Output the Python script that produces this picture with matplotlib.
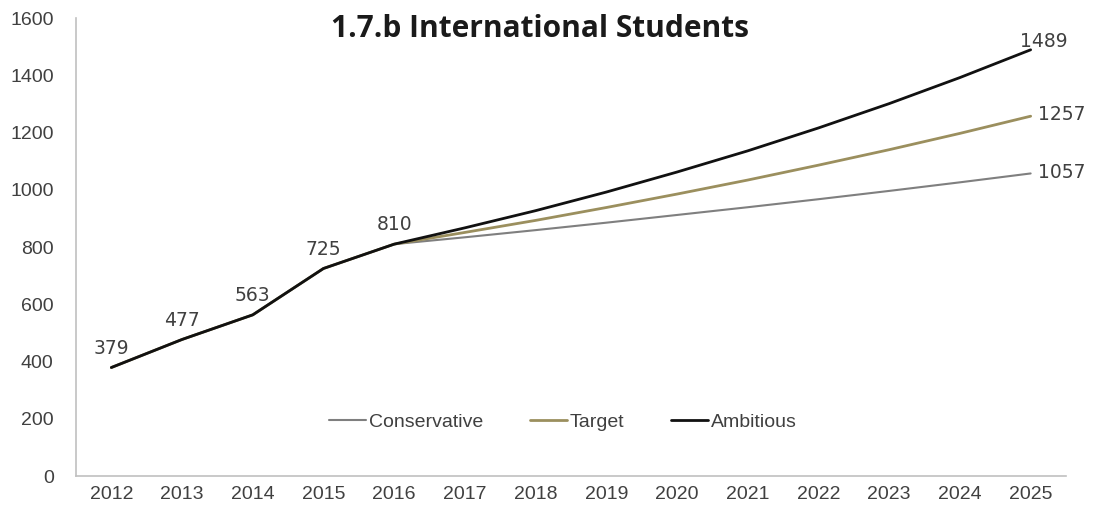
import matplotlib
matplotlib.use("Agg")
import matplotlib.pyplot as plt

# Years and actual intake (2012-2016), then three growth scenarios to 2025
years = list(range(2012, 2026))
actual = [379, 477, 563, 725, 810]
conservative_proj = [834, 859, 885, 912, 939, 967, 996, 1026, 1057]
target_proj = [851, 893, 938, 985, 1034, 1086, 1140, 1197, 1257]
ambitious_proj = [867, 927, 992, 1062, 1136, 1216, 1301, 1392, 1489]

series = [
    ("Conservative", actual + conservative_proj, "#7f7f7f", 1.5),
    ("Target", actual + target_proj, "#9b8f5e", 2.0),
    ("Ambitious", actual + ambitious_proj, "#111111", 2.0),
]

fig = plt.figure(figsize=(10.93, 5.12), dpi=100)
ax = fig.add_axes([0.0695, 0.0703, 0.9058, 0.8945])

x = list(range(len(years)))
for name, vals, color, lw in series:
    ax.plot(x, vals, color=color, lw=lw, label=name, solid_capstyle="round")

# value labels on the actual years
for i, v in enumerate(actual):
    ax.annotate(str(v), (x[i], v), xytext=(0, 14), textcoords="offset points",
                ha="center", va="center", fontsize=13.5, color="#404040",
                family="DejaVu Sans")

# end-of-line labels
end_offsets = {"Conservative": (5, 1), "Target": (5, 1), "Ambitious": (-8, 6)}
for name, vals, color, lw in series:
    dx, dy = end_offsets[name]
    ax.annotate(str(vals[-1]), (x[-1], vals[-1]), xytext=(dx, dy),
                textcoords="offset points", ha="left", va="center",
                fontsize=13.5, color="#404040", family="DejaVu Sans")

ax.set_xlim(-0.5, len(years) - 0.5)
ax.set_ylim(0, 1600)
ax.set_yticks(range(0, 1601, 200))
ax.set_xticks(x)
ax.set_xticklabels([str(y) for y in years])
ax.tick_params(length=0, labelsize=14, labelcolor="#404040", pad=7)
ax.tick_params(axis="y", pad=16)
for lab in ax.get_xticklabels() + ax.get_yticklabels():
    lab.set_family("Liberation Sans")

for side in ("top", "right"):
    ax.spines[side].set_visible(False)
for side in ("left", "bottom"):
    ax.spines[side].set_color("#c0c0c0")
    ax.spines[side].set_linewidth(1.2)

ax.text(0.469, 0.975, "1.7.b International Students", transform=ax.transAxes,
        ha="center", va="center", fontsize=21.5, fontweight="bold",
        family="Open Sans", color="#1a1a1a")

leg = ax.legend(loc="center", bbox_to_anchor=(0.492, 0.118), ncol=3,
                frameon=False, handlelength=1.9, handletextpad=0.15,
                columnspacing=2.4, prop={"family": "Liberation Sans", "size": 14})
for t in leg.get_texts():
    t.set_color("#404040")

fig.savefig("out.png", dpi=100, facecolor="white")
